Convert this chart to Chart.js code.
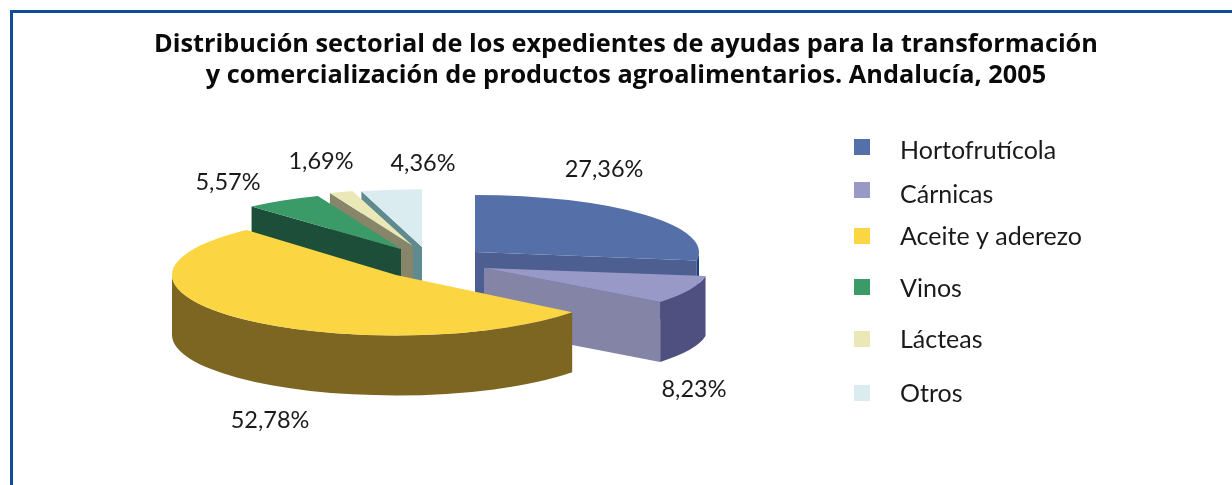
<!DOCTYPE html>
<html lang="es">
  <head>
    <meta charset="UTF-8" />
    <title>Distribución sectorial</title>
    <script src="https://cdn.jsdelivr.net/npm/chart.js"></script>
    <style>
      body { margin: 0; background: #fff; }
      .frame {
        position: absolute; left: 10px; top: 10px; right: 0; bottom: 0;
        border-left: 3px solid #0f4c9a; border-top: 3px solid #0f4c9a;
      }
      canvas { position: absolute; left: 0; top: 0; }
    </style>
  </head>
  <body>
    <div class="frame"></div>
    <canvas id="pieChart" width="1232" height="485"></canvas>

    <script>
      const categories = ["Hortofrutícola", "Cárnicas", "Aceite y aderezo", "Vinos", "Lácteas", "Otros"];
      const values = [27.36, 8.23, 52.78, 5.57, 1.69, 4.36];
      const valueLabels = ["27,36%", "8,23%", "52,78%", "5,57%", "1,69%", "4,36%"];
      const titleLines = [
        "Distribución sectorial de los expedientes de ayudas para la transformación",
        "y comercialización de productos agroalimentarios. Andalucía, 2005",
      ];

      const topColors = ["#5570a8", "#9999c8", "#fbd542", "#3a9a68", "#ebe8b8", "#dbecf1"];
      const edgeColors = ["#4d5f90", "#8484a6", "#7d6522", "#1c4e3a", "#87866a", "#5f8a90"];
      const rimColors = ["#1f3f80", "#4f4f80", "#7d6522", "#1c4e3a", "#87866a", "#5f8a90"];

      // estilo del pastel 3D
      const fontFamily = "Lato";
      const titleFamily = "Open Sans";
      const pieCenter = { x: 422, y: 247 };
      const pieRadius = 224;
      const pieDepth = 60;
      const squash = [0.255, 0.245, 0.27, 0.255, 0.255, 0.258];
      const explodeX = [53, 62, -26, -21, -9, 0];
      const explodeY = [5, 21, 28, 2, -1, 0];
      const drawOrder = [5, 4, 3, 0, 1, 2];
      const labelDx = [129, 210, -126, -173, -92, 1];
      const labelDy = [-75, 129, 153, -59, -77, -76];
      const legendBoxY = [139, 182, 228, 279, 331, 385];
      const legendTextY = [159, 203, 245, 297, 348, 402];

      function sliceGeom(i) {
        return {
          x: pieCenter.x + explodeX[i],
          y: pieCenter.y + explodeY[i],
          s: squash[i],
        };
      }

      function drawWall(ctx, g, r, a, color) {
        const ex = g.x + Math.cos(a) * r;
        const ey = g.y + Math.sin(a) * r * g.s;
        ctx.fillStyle = color;
        ctx.beginPath();
        ctx.moveTo(g.x, g.y);
        ctx.lineTo(ex, ey);
        ctx.lineTo(ex, ey + pieDepth);
        ctx.lineTo(g.x, g.y + pieDepth);
        ctx.closePath();
        ctx.fill();
      }

      const pie3d = {
        id: "pie3d",
        beforeDatasetsDraw(chart) {
          const ctx = chart.ctx;
          const arcs = chart.getDatasetMeta(0).data;
          drawOrder.forEach((i) => {
            const arc = arcs[i];
            const g = sliceGeom(i);
            const r = arc.outerRadius;
            // paredes radiales que miran al espectador
            if (Math.sin(arc.startAngle - Math.PI / 2) > 0) drawWall(ctx, g, r, arc.startAngle, edgeColors[i]);
            if (Math.sin(arc.endAngle + Math.PI / 2) > 0) drawWall(ctx, g, r, arc.endAngle, edgeColors[i]);
            // pared exterior, solo la parte frontal
            const a0 = Math.max(arc.startAngle, 0);
            const a1 = Math.min(arc.endAngle, Math.PI);
            if (a1 > a0) {
              ctx.fillStyle = rimColors[i];
              ctx.beginPath();
              ctx.ellipse(g.x, g.y, r, r * g.s, 0, a0, a1);
              ctx.ellipse(g.x, g.y + pieDepth, r, r * g.s, 0, a1, a0, true);
              ctx.closePath();
              ctx.fill();
            }
            // cara superior: el arco de Chart.js aplastado
            ctx.save();
            ctx.translate(g.x, g.y);
            ctx.scale(1, g.s);
            ctx.translate(-arc.x, -arc.y);
            arc.draw(ctx);
            ctx.restore();
          });
          return false;
        },
        afterDraw(chart) {
          const ctx = chart.ctx;
          ctx.save();
          ctx.fillStyle = "#1a1a1a";
          ctx.textBaseline = "alphabetic";
          ctx.textAlign = "center";
          ctx.font = "23.5px " + fontFamily;
          valueLabels.forEach((t, i) => {
            const g = sliceGeom(i);
            ctx.fillText(t, g.x + labelDx[i], g.y + labelDy[i]);
          });
          ctx.textAlign = "left";
          ctx.font = "25px " + fontFamily;
          categories.forEach((c, i) => {
            ctx.fillStyle = topColors[i];
            ctx.fillRect(854, legendBoxY[i], 16, 16);
            ctx.fillStyle = "#1a1a1a";
            ctx.fillText(c, 900, legendTextY[i]);
          });
          ctx.restore();
        },
      };

      new Chart(document.getElementById("pieChart").getContext("2d"), {
        type: "pie",
        data: {
          labels: categories,
          datasets: [
            {
              data: values,
              backgroundColor: topColors,
              borderWidth: 0,
              radius: pieRadius,
            },
          ],
        },
        options: {
          responsive: false,
          animation: false,
          layout: { padding: { left: 20, top: 29 } },
          plugins: {
            legend: { display: false },
            tooltip: { enabled: false },
            title: {
              display: true,
              text: titleLines,
              color: "#0a0a0a",
              padding: 0,
              font: { family: titleFamily, size: 25.3, weight: "bold", lineHeight: 1.23 },
            },
          },
        },
        plugins: [pie3d],
      });
    </script>
  </body>
</html>
